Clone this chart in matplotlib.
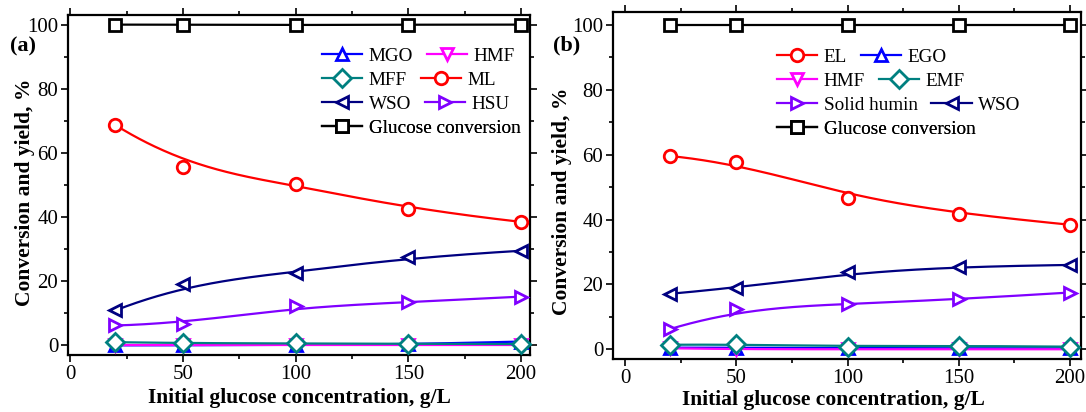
import numpy as np
import matplotlib
matplotlib.use("Agg")
import matplotlib.pyplot as plt
from matplotlib.lines import Line2D
from matplotlib.ticker import MultipleLocator

plt.rcParams['font.family'] = ['Liberation Serif', 'DejaVu Serif']
plt.rcParams['mathtext.fontset'] = 'stix'

# initial glucose concentration, g/L
conc = [20, 50, 100, 150, 200]

# (a) methanol system
a_glucose = [100.0, 100.0, 99.8, 100.0, 100.0]
a_mgo = [0.0, 0.0, 0.2, 0.3, 1.2]
a_hmf = [0.0, 0.0, 0.0, 0.0, 0.0]
a_mff = [1.0, 0.7, 0.6, 0.5, 0.4]
a_ml = [68.7, 55.6, 50.3, 42.5, 38.5]
a_wso = [10.9, 19.1, 22.7, 27.4, 29.5]
a_hsu = [6.2, 6.8, 12.4, 13.4, 15.2]

# (b) ethanol system
b_glucose = [100.0, 100.0, 100.0, 100.0, 100.0]
b_el = [59.6, 57.6, 46.7, 41.8, 38.4]
b_ego = [0.5, 0.5, 0.3, 0.3, 0.3]
b_hmf = [0.3, 0.0, 0.0, 0.0, 0.0]
b_emf = [1.4, 1.5, 0.8, 1.1, 0.8]
b_humin = [6.2, 12.4, 14.0, 15.4, 17.5]
b_wso = [17.1, 18.9, 23.7, 25.5, 26.0]

BLUE, MAG, TEAL, RED = '#0000FF', '#FF00FF', '#008080', '#FF0000'
NAVY, VIOLET, BLACK = '#000080', '#8000FF', '#000000'


def bspline(xs, ys, num=300, k=3):
    """clamped cubic B-spline with the data points as control points"""
    P = np.column_stack([xs, ys]).astype(float)
    n = len(P)
    t = np.concatenate([[0.0] * k, np.linspace(0, 1, n - k + 1), [1.0] * k])
    u = np.linspace(0, 1, num)

    def basis(i, d):
        if d == 0:
            b = ((t[i] <= u) & (u < t[i + 1])).astype(float)
            if t[i + 1] == 1.0 and t[i] < 1.0:
                b[u == 1.0] = 1.0
            return b
        out = np.zeros_like(u)
        d1 = t[i + d] - t[i]
        d2 = t[i + d + 1] - t[i + 1]
        if d1 > 0:
            out += (u - t[i]) / d1 * basis(i, d - 1)
        if d2 > 0:
            out += (t[i + d + 1] - u) / d2 * basis(i + 1, d - 1)
        return out

    B = np.array([basis(i, k) for i in range(n)])
    c = B.T @ P
    return c[:, 0], c[:, 1]


def series(ax, ys, color, marker, z):
    cx, cy = bspline(conc, ys)
    ax.plot(cx, cy, color=color, lw=1.6, zorder=z)
    ax.plot(conc, ys, ls='none', marker=marker, ms=9, mfc='white',
            mec=color, mew=2, zorder=z + 0.5, clip_on=False)


def style(ax, xlim, ylim, xlab_pos, ylab_pos):
    ax.set_xlim(*xlim)
    ax.set_ylim(*ylim)
    ax.xaxis.set_major_locator(MultipleLocator(50))
    ax.xaxis.set_minor_locator(MultipleLocator(25))
    ax.yaxis.set_major_locator(MultipleLocator(20))
    ax.yaxis.set_minor_locator(MultipleLocator(10))
    ax.tick_params(which='both', direction='out', top=True, right=True,
                   labeltop=False, labelright=False, width=1.2, labelsize=15,
                   pad=2)
    ax.tick_params(which='major', length=5)
    ax.tick_params(which='minor', length=3)
    for s in ax.spines.values():
        s.set_linewidth(1.6)
    ax.set_xlabel('Initial glucose concentration, g/L', fontsize=15.5,
                  fontweight='bold', va='center')
    ax.set_ylabel('Conversion and yield, %', fontsize=15.5,
                  fontweight='bold', va='center')
    ax.xaxis.set_label_coords(*xlab_pos)
    ax.yaxis.set_label_coords(*ylab_pos)


fig = plt.figure(figsize=(10.86, 4.12), dpi=100)
W, H = 1086, 412


def px_axes(l, t, r, b):
    return fig.add_axes([l / W, 1 - b / H, (r - l) / W, (b - t) / H])


def legend_row(ax, entries, x, y):
    handles = [Line2D([], [], color=c, marker=m, ms=9, mfc='white', mec=c,
                      mew=2, lw=1.6) for _, c, m in entries]
    labels = [lab for lab, _, _ in entries]
    leg = ax.legend(handles, labels, loc='center left',
                    bbox_to_anchor=(x / W, 1 - y / H),
                    bbox_transform=fig.transFigure, ncol=len(entries),
                    frameon=False, borderpad=0, borderaxespad=0,
                    handlelength=2.1, handletextpad=0.35, columnspacing=0.7,
                    fontsize=13.8)
    ax.add_artist(leg)


# ---- panel (a)
ax1 = px_axes(68, 15, 530, 355)
series(ax1, a_glucose, BLACK, 's', 3)
series(ax1, a_ml, RED, 'o', 3)
series(ax1, a_wso, NAVY, '<', 3)
series(ax1, a_hsu, VIOLET, '>', 3)
series(ax1, a_mgo, BLUE, '^', 4)
series(ax1, a_hmf, MAG, 'v', 5)
series(ax1, a_mff, TEAL, 'D', 6)
style(ax1, (-1, 204), (-3, 103), (0.5, -0.126), (-0.093, 0.479))

legend_row(ax1, [('MGO', BLUE, '^'), ('HMF', MAG, 'v')], 322, 56)
legend_row(ax1, [('MFF', TEAL, 'D'), ('ML', RED, 'o')], 322, 80)
legend_row(ax1, [('WSO', NAVY, '<'), ('HSU', VIOLET, '>')], 322, 104)
legend_row(ax1, [('Glucose conversion', BLACK, 's')], 322, 128)

fig.text(10 / W, 1 - 46 / H, '(a)', fontsize=16, fontweight='bold',
         va='center', ha='left')

# ---- panel (b)
ax2 = px_axes(613, 12, 1081, 359)
series(ax2, b_glucose, BLACK, 's', 3)
series(ax2, b_el, RED, 'o', 3)
series(ax2, b_wso, NAVY, '<', 3)
series(ax2, b_humin, VIOLET, '>', 3)
series(ax2, b_ego, BLUE, '^', 4)
series(ax2, b_hmf, MAG, 'v', 5)
series(ax2, b_emf, TEAL, 'D', 6)
style(ax2, (-5.5, 205), (-3, 104), (0.472, -0.118), (-0.109, 0.455))

legend_row(ax2, [('EL', RED, 'o'), ('EGO', BLUE, '^')], 777, 57)
legend_row(ax2, [('HMF', MAG, 'v'), ('EMF', TEAL, 'D')], 777, 81)
legend_row(ax2, [('Solid humin', VIOLET, '>'), ('WSO', NAVY, '<')], 777, 105)
legend_row(ax2, [('Glucose conversion', BLACK, 's')], 777, 129)

fig.text(553 / W, 1 - 45 / H, '(b)', fontsize=16, fontweight='bold',
         va='center', ha='left')

fig.savefig('out.png', dpi=100)
